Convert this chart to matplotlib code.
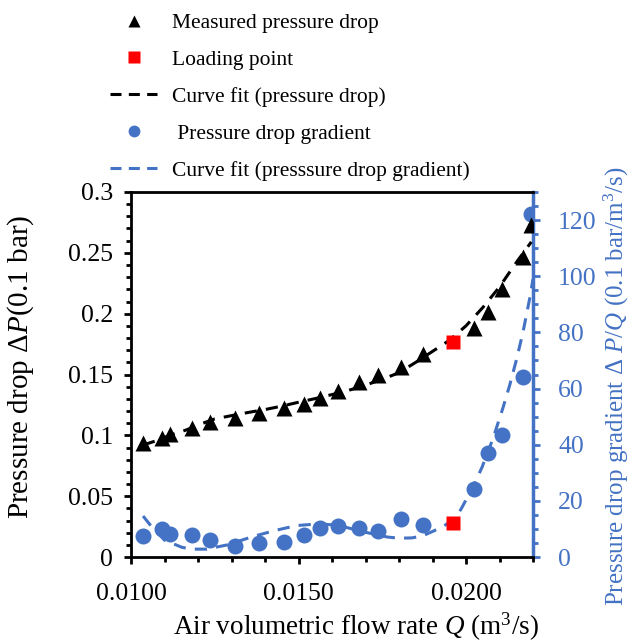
import matplotlib
matplotlib.use("Agg")
import matplotlib.pyplot as plt
from matplotlib.lines import Line2D
from matplotlib.ticker import MultipleLocator, FormatStrFormatter, FuncFormatter

plt.rcParams['font.family'] = ['Liberation Serif', 'DejaVu Serif']
plt.rcParams['mathtext.fontset'] = 'custom'
plt.rcParams['mathtext.rm'] = 'Liberation Serif'
plt.rcParams['mathtext.it'] = 'Liberation Serif:italic'

BLUE = '#4472C4'
RED = '#FF0000'

# Flow rate (m3/s)
flow = [0.01036, 0.01093, 0.01117, 0.01183, 0.01237, 0.01311, 0.01383, 0.01458,
        0.01515, 0.01563, 0.01617, 0.01680, 0.01737, 0.01805, 0.01871,
        0.02024, 0.02066, 0.02108, 0.02171, 0.02195]
# Measured pressure drop (0.1 bar)
dp = [0.0937, 0.0978, 0.1011, 0.1060, 0.1110, 0.1142, 0.1184, 0.1225,
      0.1257, 0.1307, 0.1364, 0.1438, 0.1496, 0.1562, 0.1670,
      0.1882, 0.2014, 0.2203, 0.2466, 0.2729]
# Pressure drop gradient (0.1 bar/m3/s)
grad = [7.5, 10.0, 8.2, 7.8, 6.1, 3.9, 5.0, 5.3,
        7.8, 10.3, 11.0, 10.3, 9.3, 13.5, 11.4,
        24.2, 37.0, 43.4, 64.1, 122.2]

# Loading point
load_q = [0.01961]
load_dp = [0.1767]
load_grad = [12.1]

# Curve fit (pressure drop)
fit_q = [0.01036, 0.0108, 0.0112, 0.01165, 0.0120, 0.0125, 0.0130, 0.0135, 0.0140,
         0.0145, 0.0150, 0.0155, 0.0160, 0.0165, 0.0170, 0.0175, 0.0180, 0.0185,
         0.0190, 0.0195, 0.0200, 0.0205, 0.0210, 0.0215, 0.02195]
fit_dp = [0.0920, 0.0960, 0.1005, 0.1044, 0.1085, 0.1135, 0.1162, 0.1188, 0.1212,
          0.1240, 0.1272, 0.1302, 0.1335, 0.1370, 0.1413, 0.1460, 0.1515, 0.1600,
          0.1690, 0.1780, 0.1900, 0.2050, 0.2220, 0.2420, 0.2590]

# Curve fit (pressure drop gradient)
gfit_q = [0.01036, 0.0106, 0.0110, 0.01153, 0.01190, 0.01225, 0.01287, 0.01359,
          0.01425, 0.01494, 0.0155, 0.0160, 0.01644, 0.0170, 0.01766, 0.0180,
          0.01838, 0.0187, 0.01904, 0.0194, 0.01967, 0.01985, 0.02003, 0.02025,
          0.02048, 0.0208, 0.0211, 0.0213, 0.0215, 0.0217, 0.0219, 0.0220]
gfit_v = [14.6, 11.0, 6.0, 3.4, 2.8, 2.8, 4.3, 7.1,
          9.3, 11.2, 11.7, 11.5, 10.5, 8.8, 7.1, 6.7,
          6.8, 7.5, 9.3, 11.5, 13.9, 17.0, 21.0, 26.0,
          32.0, 42.0, 53.0, 61.0, 70.0, 80.0, 92.0, 99.0]

x_ticks = [0.0100, 0.0150, 0.0200]
left_ticks = [0, 0.05, 0.1, 0.15, 0.2, 0.25, 0.3]
right_ticks = [0, 20, 40, 60, 80, 100, 120]

fig = plt.figure(figsize=(6.36, 6.42), dpi=100)
ax = fig.add_axes([131 / 636, 1 - 557 / 642, 402 / 636, 365 / 642])
ax2 = ax.twinx()

TICK_FS = 18.5
LEG_FS = 15.5

# right-axis data
ax2.plot(gfit_q, gfit_v, color=BLUE, lw=2.2, dashes=(4, 3), zorder=2)
ax2.plot(flow, grad, 'o', color=BLUE, ms=11.5, mec='none', zorder=3)
ax2.plot(load_q, load_grad, 's', color=RED, ms=10.6, mec='none', zorder=4)

# left-axis data
ax.set_zorder(ax2.get_zorder() + 1)
ax.patch.set_visible(False)
ax.plot(fit_q, fit_dp, color='black', lw=2.2, dashes=(4, 3), zorder=2)
ax.plot(flow, dp, '^', color='black', ms=11.5, mec='none', zorder=3)
ax.plot(load_q, load_dp, 's', color=RED, ms=10.6, mec='none', zorder=4)

ax.set_xlim(0.010, 0.022)
ax.set_ylim(0, 0.3)
ax2.set_ylim(0, 130)

ax.set_xticks(x_ticks)
ax.xaxis.set_minor_locator(MultipleLocator(0.001))
ax.xaxis.set_major_formatter(FormatStrFormatter('%.4f'))
ax.set_yticks(left_ticks)
ax.yaxis.set_minor_locator(MultipleLocator(0.01))
ax.yaxis.set_major_formatter(FuncFormatter(
    lambda v, p: ('%.2f' % v).rstrip('0').rstrip('.') if v != 0 else '0'))
ax2.set_yticks(right_ticks)
ax2.yaxis.set_minor_locator(MultipleLocator(5))

for s in ['left', 'bottom', 'top']:
    ax.spines[s].set_linewidth(2)
ax.spines['right'].set_visible(False)
for s in ['left', 'bottom', 'top']:
    ax2.spines[s].set_visible(False)
ax2.spines['right'].set_color(BLUE)
ax2.spines['right'].set_linewidth(2.5)

ax.tick_params(axis='both', which='major', direction='out', length=5, width=2, labelsize=TICK_FS)
ax.tick_params(axis='both', which='minor', direction='out', length=3.5, width=2)
ax.tick_params(axis='y', which='major', pad=8)
ax.tick_params(axis='x', which='major', pad=14)
ax.tick_params(top=False, which='both')
ax2.tick_params(axis='y', which='major', direction='out', length=5, width=2,
                labelsize=TICK_FS, colors=BLUE, pad=13)
ax2.tick_params(axis='y', which='minor', direction='out', length=3.5, width=2, colors=BLUE)

ax.set_xlabel('Air volumetric flow rate $Q$ (m$^3$/s)', fontsize=19.5)
ax.set_ylabel('Pressure drop Δ$P$(0.1 bar)', fontsize=21)
ax2.set_ylabel('Pressure drop gradient Δ $P$/$Q$ (0.1 bar/m$^3$/s)', fontsize=18, color=BLUE)
ax.xaxis.set_label_coords(0.56, -0.148)
ax.yaxis.set_label_coords(-0.236, 0.52)
ax2.yaxis.set_label_coords(1.172, 0.467)

handles = [
    Line2D([], [], ls='none', marker='^', color='black', ms=8.5, mec='none'),
    Line2D([], [], ls='none', marker='s', color=RED, ms=8, mec='none'),
    Line2D([], [], color='black', lw=2.2, dashes=(3.6, 2.4)),
    Line2D([], [], ls='none', marker='o', color=BLUE, ms=8.5, mec='none'),
    Line2D([], [], color=BLUE, lw=2.2, dashes=(3.6, 2.4)),
]
labels = ['Measured pressure drop', 'Loading point', 'Curve fit (pressure drop)',
          ' Pressure drop gradient', 'Curve fit (presssure drop gradient)']
fig.legend(handles, labels, loc='upper left', bbox_to_anchor=(110 / 636, 1 - 13 / 642),
           frameon=False, fontsize=LEG_FS, handlelength=2.2, handletextpad=0.7,
           labelspacing=0.78, borderpad=0, borderaxespad=0)

fig.savefig('out.png', dpi=100)
